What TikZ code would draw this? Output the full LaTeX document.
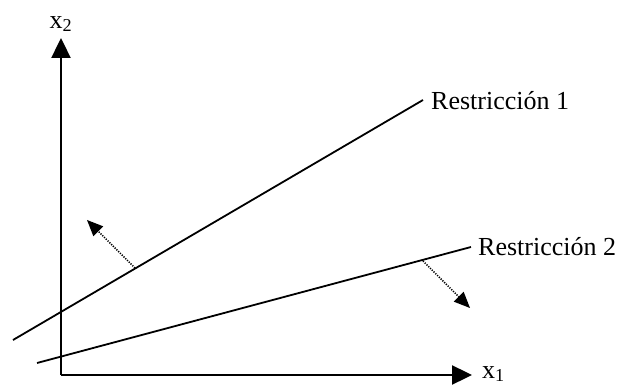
\documentclass[tikz,border=0pt]{standalone}
\usepackage{fontspec}
\setmainfont{Liberation Serif}
\usetikzlibrary{arrows.meta}
\begin{document}
\begin{tikzpicture}[x=1pt,y=-1pt,
  axis/.style={line width=2.4pt,-{Triangle[length=20pt,width=19pt]}},
  cline/.style={line width=1.8pt},
  dirarrow/.style={line width=1.5pt,dash pattern=on 1.2pt off 1.3pt,-{Triangle[length=16pt,width=14pt,line width=0pt]}},
  lab/.style={font=\fontsize{26}{30}\selectfont,inner sep=0pt}]
\useasboundingbox (0,0) rectangle (622,385);
\coordinate (o) at (61,375);
\coordinate (ytip) at (61,38);
\coordinate (xtip) at (472,375);
\draw[axis] (o) -- (ytip);
\draw[axis] (o) -- (xtip);
\node[lab,anchor=south] (x2) at (61,32) {x\textsubscript{2}};
\node[lab,anchor=west] (x1) at (482,374) {x\textsubscript{1}};
% constraint 1
\coordinate (a1) at (13,340);
\coordinate (b1) at (423,100);
\draw[cline] (a1) -- (b1);
\node[lab,anchor=west] (r1) at (431,101) {Restricción 1};
% constraint 2
\coordinate (a2) at (37,363);
\coordinate (b2) at (471,247);
\draw[cline] (a2) -- (b2);
\node[lab,anchor=west] (r2) at (478,247) {Restricción 2};
% direction arrows
\coordinate (s1) at (135,268);
\coordinate (t1) at (87,220);
\draw[dirarrow] (s1) -- (t1);
\coordinate (s2) at (423,261);
\coordinate (t2) at (470,308);
\draw[dirarrow] (s2) -- (t2);
\end{tikzpicture}
\end{document}
